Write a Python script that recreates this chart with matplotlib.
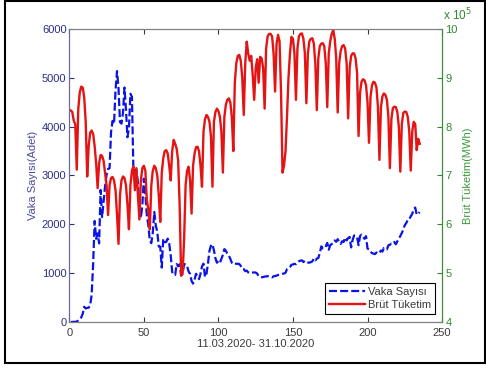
import matplotlib.pyplot as plt
from matplotlib.patches import Rectangle
from matplotlib.ticker import ScalarFormatter

plt.rcParams['font.family'] = ['Liberation Sans', 'DejaVu Sans']

# daily new cases, 11.03.2020 - 31.10.2020
vaka = [
    1, 0, 4, 1, 12, 29, 51, 93, 168, 311, 277, 289, 293, 343, 561, 1196, 2069,
    1704, 1815, 1610, 2704,
    2148, 2456, 2786, 3013, 3135, 3148, 3892, 4117, 4056, 4747, 5138, 4789,
    4093, 4062, 4281, 4801, 4353, 3783, 3977, 4674, 4611, 3083, 3116, 3122,
    2861, 2357, 2131, 2392, 2936, 2615,
    2188, 1983, 1670, 1614, 1832, 2253, 1977, 1848, 1546, 1542, 1114, 1704,
    1635, 1639, 1708, 1610, 1368, 1022, 972, 961, 1186, 1141, 1182, 952, 987,
    1186, 1182, 1141, 1035, 983, 839,
    786, 867, 988, 930, 878, 989, 1141, 1195, 922, 987, 1195, 1459, 1562, 1592,
    1467, 1304, 1214, 1248, 1212, 1293, 1375, 1492, 1458, 1396, 1356, 1293,
    1214, 1182, 1195, 1192,
    1192, 1188, 1148, 1086, 1083, 1041, 1053, 1016, 1001, 1008, 1012, 1016,
    1012, 992, 933, 926, 918, 919, 931, 932, 939, 930, 927, 913, 937, 940, 949,
    963, 967, 982, 987,
    993, 1008, 1083, 1102, 1127, 1172, 1178, 1192, 1183, 1212, 1243, 1256,
    1263, 1226, 1256, 1233, 1218, 1214, 1226, 1241, 1302, 1263, 1298, 1309,
    1412, 1549, 1505, 1502, 1550, 1620, 1480,
    1572, 1596, 1621, 1671, 1642, 1696, 1643, 1598, 1654, 1638, 1728, 1671,
    1716, 1742, 1527, 1679, 1771, 1767, 1742, 1573, 1761, 1790, 1742, 1704,
    1758, 1503, 1486, 1444, 1410, 1400,
    1391, 1423, 1402, 1417, 1465, 1442, 1515, 1502, 1487, 1571, 1581, 1603,
    1598, 1639, 1591, 1651, 1702, 1763, 1822, 1895, 1984, 2026, 2094, 2102,
    2165, 2214, 2309, 2343, 2198, 2216, 2250,
]

# daily gross consumption, thousand MWh (one row per Mon..Sun week)
brut_bin = [
    833, 830, 812, 805, 712,
    835, 870, 882, 880, 860, 810, 698,
    760, 788, 792, 785, 760, 725, 674,
    725, 742, 740, 730, 705, 680, 619,
    680, 695, 697, 690, 670, 620, 560,
    660, 690, 698, 695, 680, 640, 590,
    680, 710, 718, 670, 715, 660, 610,
    690, 715, 720, 710, 650, 630, 590,
    680, 710, 720, 715, 700, 660, 605,
    705, 735, 750, 752, 745, 720, 690,
    750, 773, 765, 755, 730, 640, 495,
    500, 570, 680, 710, 718, 690, 622,
    720, 745, 758, 759, 750, 720, 677,
    790, 815, 824, 820, 810, 780, 677,
    810, 830, 837, 832, 820, 790, 706,
    820, 845, 855, 858, 850, 820, 750,
    890, 930, 945, 947, 935, 900, 824,
    930, 974, 950, 935, 945, 905, 855,
    920, 938, 890, 943, 940, 920, 837,
    960, 985, 990, 990, 985, 950, 872,
    970, 988, 975, 870, 706, 720, 750,
    820, 900, 950, 984, 980, 950, 855,
    960, 985, 990, 991, 980, 950, 848,
    950, 975, 980, 981, 970, 930, 834,
    940, 965, 970, 971, 965, 930, 840,
    950, 975, 990, 998, 980, 940, 829,
    930, 955, 965, 967, 960, 930, 817,
    920, 945, 950, 950, 940, 910, 781,
    870, 892, 897, 895, 885, 850, 767,
    860, 885, 892, 890, 880, 840, 732,
    840, 862, 868, 865, 855, 820, 715,
    815, 838, 841, 840, 830, 800, 708,
    805, 828, 831, 830, 820, 790, 710,
    790, 810, 805, 752, 775, 765,
]
brut = [v * 1000 for v in brut_bin]

gun = list(range(1, len(vaka) + 1))

fig = plt.figure(figsize=(4.86, 3.69), dpi=100)
ax = fig.add_axes([0.1426, 0.1274, 0.767, 0.794])
ax2 = ax.twinx()

l1, = ax.plot(gun, vaka, color='#0a14e6', lw=1.6, ls='--', dashes=(3.6, 1.4))
l2, = ax2.plot(gun, brut, color='#e41414', lw=1.7)

ax.set_xlim(0, 250)
ax.set_ylim(0, 6000)
ax.set_yticks(range(0, 6001, 1000))
ax.set_xticks(range(0, 251, 50))
ax2.set_ylim(4e5, 10e5)
ax2.set_yticks([i * 1e5 for i in range(4, 11)])

# right axis in units of 10^5 MWh, multiplier written above the axis
fmt = ScalarFormatter()
fmt.set_powerlimits((5, 5))
ax2.yaxis.set_major_formatter(fmt)
ax2.yaxis.get_offset_text().set_visible(False)

navy = '#2a2f86'
green = '#2f8a2f'
gray = '#3a3a3a'

ax2.text(1.003, 1.028, r'x 10$^{5}$', transform=ax2.transAxes,
         ha='left', va='baseline', color=green, fontsize=8.5)

ax.tick_params(axis='y', direction='in', length=3.5, colors=navy,
               labelsize=8, pad=2)
ax.tick_params(axis='x', direction='in', length=3.5, top=True,
               colors=gray, labelsize=8, pad=4)
ax2.tick_params(axis='y', direction='in', length=3.5, colors=green,
                labelsize=8, pad=2.5)

for a in (ax, ax2):
    a.spines['top'].set_color('#808080')
    a.spines['bottom'].set_color('#808080')
    a.spines['left'].set_color('#6a6a9a')
    a.spines['right'].set_color('#3c8c3c')

ax.set_ylabel('Vaka Sayısı(Adet)', color='#4a4a9c', fontsize=8, labelpad=3)
ax2.set_ylabel('Brüt Tüketim(MWh)', color='#3c9a3c', fontsize=8, labelpad=4)
ax.set_xlabel('11.03.2020- 31.10.2020', color=gray, fontsize=8, labelpad=1)

leg = ax2.legend([l1, l2], ['Vaka Sayısı', 'Brüt Tüketim'],
                 loc='lower right', bbox_to_anchor=(0.981, 0.027),
                 borderaxespad=0, fontsize=8, fancybox=False,
                 edgecolor='black', framealpha=1, handlelength=3.2,
                 handletextpad=0.3, borderpad=0.35, labelspacing=0.3)
leg.get_frame().set_linewidth(0.8)
for t in leg.get_texts():
    t.set_color(gray)

fig.patches.append(Rectangle((5 / 486, 6 / 369), 480 / 486, 362 / 369,
                             transform=fig.transFigure, fill=False,
                             edgecolor='black', lw=1.5))

fig.savefig('out.png', dpi=100)
